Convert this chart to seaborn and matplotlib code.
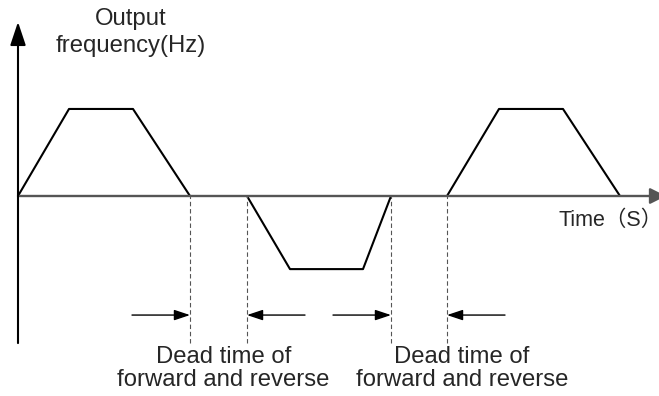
import numpy as np
import pandas as pd
import matplotlib
matplotlib.use('Agg')
import matplotlib.pyplot as plt
import seaborn as sns

# waveform: forward run, dead time, reverse run, dead time, forward run
time = [0, 5.1, 11.5, 17.2,
        22.9, 27.2, 34.5, 37.3,
        42.9, 48.1, 54.5, 60.2]
freq = [0, 50, 50, 0,
        0, -42, -42, 0,
        0, 50, 50, 0]
segment = ['fwd1'] * 4 + ['rev'] * 4 + ['fwd2'] * 4

# dead time boundaries (s)
dead_edges = [17.2, 22.9, 37.3, 42.9]
dead_labels = ['Dead time of\nforward and reverse', 'Dead time of\nforward and reverse']

sns.set_style('white')
plt.rcParams['font.family'] = ['Liberation Sans', 'Noto Sans CJK SC', 'DejaVu Sans']

df = pd.DataFrame({'time': time, 'freq': freq, 'segment': segment})

fig = plt.figure(figsize=(6.59, 3.96), dpi=100)
ax = fig.add_axes([0, 0, 1, 1])

# axes (drawn as arrows)
ax.annotate('', xy=(64.8, 0), xytext=(0, 0), annotation_clip=False,
            arrowprops=dict(arrowstyle='-|>,head_length=0.6,head_width=0.3', mutation_scale=16,
                            color='#555555', lw=1.7, shrinkA=0, shrinkB=0))
ax.annotate('', xy=(0, 100), xytext=(0, -84.5), annotation_clip=False,
            arrowprops=dict(arrowstyle='-|>,head_length=0.75,head_width=0.25', mutation_scale=19,
                            color='black', lw=1.5, shrinkA=0, shrinkB=0))

sns.lineplot(data=df, x='time', y='freq', units='segment', estimator=None, sort=False,
             color='black', linewidth=1.5, ax=ax, legend=False)

# dead time markers
ax.vlines(dead_edges, -84.5, 0, colors='#555555', linestyles=(0, (4, 2.5)), linewidth=0.8)
arrow_y = -68.4
starts = [11.4, 28.7, 31.5, 48.7]
for x0, x1 in zip(starts, dead_edges):
    ax.annotate('', xy=(x1, arrow_y), xytext=(x0, arrow_y), annotation_clip=False,
                arrowprops=dict(arrowstyle='-|>,head_length=0.6,head_width=0.2', mutation_scale=16,
                                color='black', lw=1.0, shrinkA=0, shrinkB=0))

ax.text(20.55, -99.1, dead_labels[0], ha='center', va='center', fontsize=17.2, linespacing=1.1)
ax.text(44.4, -99.1, dead_labels[1], ha='center', va='center', fontsize=17.2, linespacing=1.1)

ax.text(11.3, 94, 'Output\nfrequency(Hz)', ha='center', va='center', fontsize=17.2,
        linespacing=1.3)
ax.text(54.0, -13.8, 'Time（S）', ha='left', va='center', fontsize=15.5)

ax.set_xlim(-1.8, 64.1)
ax.set_ylim(-114.9, 112.6)
ax.axis('off')

fig.savefig('out.png', dpi=100)
